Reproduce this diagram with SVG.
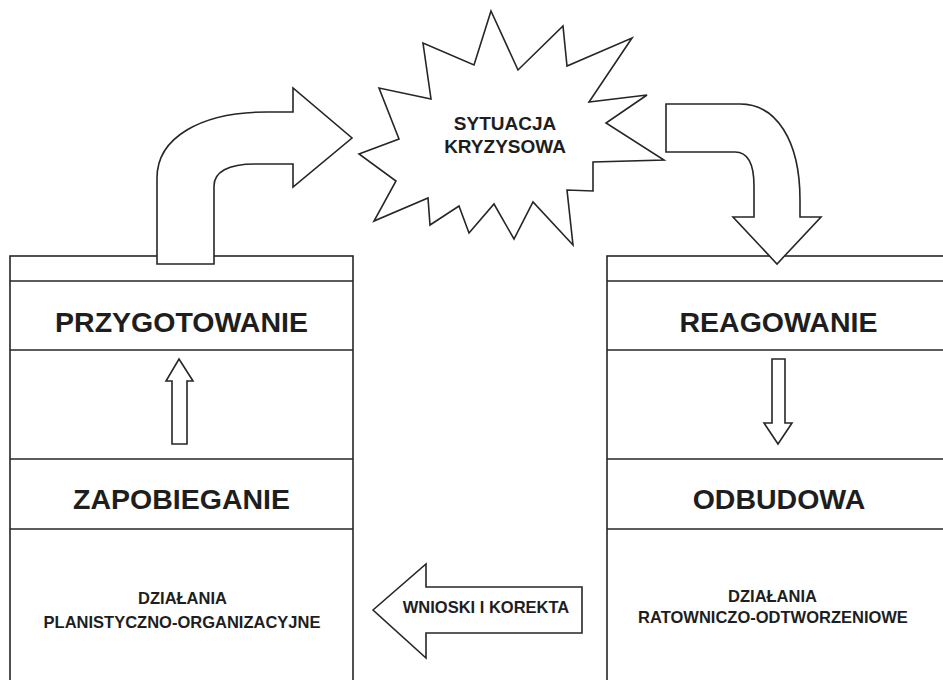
<svg xmlns="http://www.w3.org/2000/svg" width="943" height="680" viewBox="0 0 943 680">
<style>
.ln{fill:none;stroke:#262626;stroke-width:1.6}
.sh{fill:#fff;stroke:#262626;stroke-width:1.6;stroke-linejoin:miter}
.big{font-family:"Liberation Sans",Arial,sans-serif;font-weight:bold;font-size:28.5px;fill:#1e1e1e;text-anchor:middle}
.sm{font-family:"Liberation Sans",Arial,sans-serif;font-weight:bold;font-size:16.5px;fill:#1e1e1e;text-anchor:middle}
.st{font-family:"Liberation Sans",Arial,sans-serif;font-weight:bold;font-size:19px;fill:#1e1e1e;text-anchor:middle}
</style>
<rect width="943" height="680" fill="#fff"/>
<g id="left-column">
<rect class="ln" x="10" y="256" width="343" height="440"/>
<line class="ln" x1="10" y1="281" x2="353" y2="281"/>
<line class="ln" x1="10" y1="350" x2="353" y2="350"/>
<line class="ln" x1="10" y1="459" x2="353" y2="459"/>
<line class="ln" x1="10" y1="529" x2="353" y2="529"/>
<text class="big" x="181.5" y="332">PRZYGOTOWANIE</text>
<text class="big" x="181.5" y="509">ZAPOBIEGANIE</text>
<text class="sm" x="182.5" y="604">DZIAŁANIA</text>
<text class="sm" x="182" y="628">PLANISTYCZNO-ORGANIZACYJNE</text>
</g>
<g id="right-column">
<rect class="ln" x="607" y="256" width="400" height="440"/>
<line class="ln" x1="607" y1="281" x2="943" y2="281"/>
<line class="ln" x1="607" y1="350" x2="943" y2="350"/>
<line class="ln" x1="607" y1="459" x2="943" y2="459"/>
<line class="ln" x1="607" y1="529" x2="943" y2="529"/>
<text class="big" x="778.5" y="332">REAGOWANIE</text>
<text class="big" x="779" y="509">ODBUDOWA</text>
<text class="sm" x="772.5" y="602">DZIAŁANIA</text>
<text class="sm" x="773" y="623">RATOWNICZO-ODTWORZENIOWE</text>
</g>
<g id="crisis">
<polygon class="sh" points="491,11 518,70 563,26 567,66 632,38 589,102 647,95 606,123 664,160 593,162 593,191 567,190 573,245 533,202 514,239 494,204 469,233 459,206 430,225 428,198 374,221 396,181 359,154 399,139 379,88 431,99 423,43 474,65"/>
<text class="st" x="505" y="130">SYTUACJA</text>
<text class="st" x="505" y="153">KRYZYSOWA</text>
</g>
<g id="connectors">
<path class="sh" d="M157,264 L157,178 C157,138 200,112 267,112 L293,112 L293,88 L352,138 L293,187 L293,164 L255,164 C228,164 214,172 214,186 L214,264 Z"/>
<path class="sh" d="M666,104 L740,104 C776,104 800,140 800,200 L800,217 L821,217 L777,264 L733,217 L754,217 L754,186 C754,164 748,152 735,152 L666,152 Z"/>
<polygon class="sh" points="179,359 193,381 187,381 187,444 172,444 172,381 166,381"/>
<polygon class="sh" points="772,359 785,359 785,423 792,423 778,444 764,423 772,423"/>
<polygon class="sh" points="373,610 426,564 426,587 582,587 582,633 426,633 426,658"/>
<text class="sm" x="486" y="613">WNIOSKI I KOREKTA</text>
</g>
</svg>
